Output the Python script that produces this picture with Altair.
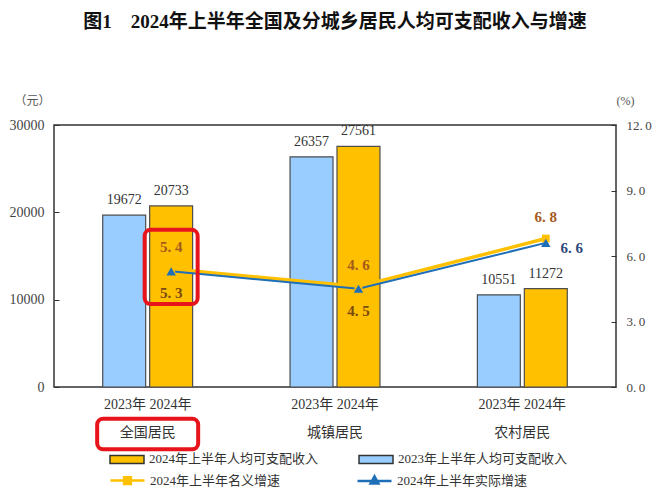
import altair as alt
import pandas as pd

# ---------------- data ----------------
categories = ["全国居民", "城镇居民", "农村居民"]
years = ["2023年", "2024年"]
income_2023 = [19672, 26357, 10551]
income_2024 = [20733, 27561, 11272]
nominal_growth = [5.4, 4.6, 6.8]
real_growth = [5.3, 4.5, 6.6]
income_ticks = [0, 10000, 20000, 30000]
growth_ticks = [0, 3, 6, 9, 12]
growth_series = ["2024年上半年名义增速", "2024年上半年实际增速"]
title_text = "图1\u30002024年上半年全国及分城乡居民人均可支配收入与增速"

# annotation boxes (in growth-axis units)
box_value_range = [3.8, 7.2]
box_label_range = [-1.45, -2.85]

SERIF = "Liberation Serif, Noto Sans CJK SC"
CJK = "Noto Sans CJK SC"
GOLD = "#FFC000"
LBLUE = "#99CCFF"
BLUE = "#1F6FB8"
RED = "#E8141C"

bars_df = pd.DataFrame({
    "地区": categories * 2,
    "年份": [years[0]] * 3 + [years[1]] * 3,
    "收入": income_2023 + income_2024,
})
growth_df = pd.DataFrame({
    "地区": categories * 2,
    "年份": [years[1]] * 6,
    "系列": [growth_series[0]] * 3 + [growth_series[1]] * 3,
    "增速": nominal_growth + real_growth,
})
growth_df["标签"] = growth_df["增速"].map(lambda v: f"{v:.1f}".replace(".", ". "))

box1_df = pd.DataFrame({"地区": [categories[0]], "年份": [years[1]],
                        "y1": [box_value_range[0]], "y2": [box_value_range[1]]})
box2_df = pd.DataFrame({"地区": [categories[0]],
                        "y1": [box_label_range[0]], "y2": [box_label_range[1]]})

# ---------------- encodings ----------------
x_scale = alt.Scale(domain=categories, paddingInner=0.5, paddingOuter=0.25)
xo_scale = alt.Scale(domain=years, paddingInner=0.085, paddingOuter=0.04)

x_axis = alt.Axis(title=None, domain=False, ticks=False, labelAngle=0,
                  labelExpr="['2023年 2024年', datum.label]",
                  labelLineHeight=28, labelPadding=10, labelFontSize=14,
                  labelFont=SERIF, labelColor="#333")

def X():
    return alt.X("地区:N", sort=categories, scale=x_scale, axis=x_axis)

XO = alt.XOffset("年份:N", scale=xo_scale)

inc_scale = alt.Scale(domain=[0, 30000], nice=False, zero=True)
gr_scale = alt.Scale(domain=[0, 12], nice=False, zero=True)

left_axis = alt.Axis(values=income_ticks, orient="left", offset=-5, tickSize=5,
                     format="d",
                     tickColor="#333", domain=False, grid=False, labelPadding=10,
                     labelFont=SERIF, labelFontSize=14, labelColor="#444",
                     title="（元）", titleAngle=0, titleX=-27, titleY=-25,
                     titleAlign="center", titleBaseline="middle", titleFont=CJK,
                     titleFontSize=12, titleFontWeight="normal", titleColor="#555")
right_axis = alt.Axis(values=growth_ticks, orient="right", offset=-5, tickSize=5,
                      tickColor="#333", domain=False, grid=False, labelPadding=10,
                      labelExpr="replace(format(datum.value, '.1f'), '.', '.\u2009')",
                      labelFont=SERIF, labelFontSize=13, labelColor="#444",
                      title="(%)", titleAngle=0, titleX=14, titleY=-25,
                      titleAlign="center", titleBaseline="middle", titleFont=SERIF,
                      titleFontSize=12, titleFontWeight="normal", titleColor="#555")

bar_legend = alt.Legend(title=None, orient="none", legendX=55, legendY=316,
                        direction="horizontal", columnPadding=37, padding=0,
                        symbolType="M-1,-0.24L1,-0.24L1,0.24L-1,0.24Z", symbolSize=1156,
                        symbolStrokeColor="#333", symbolStrokeWidth=1.5,
                        labelExpr="datum.label + '上半年人均可支配收入'",
                        labelFont=SERIF, labelFontSize=13, labelColor="#333",
                        labelOffset=4, labelLimit=400)

sq_path = "M-1,0L1,0M-0.2,-0.2L0.2,-0.2L0.2,0.2L-0.2,0.2Z"
tri_path = "M-1,0L1,0M0,-0.26L0.23,0.16L-0.23,0.16Z"
growth_legend = alt.Legend(title=None, orient="none", legendX=55, legendY=337,
                           direction="horizontal", columnPadding=71, padding=0,
                           symbolSize=1156, symbolStrokeWidth=2.5,
                           labelFont=SERIF, labelFontSize=13, labelColor="#333",
                           labelOffset=4, labelLimit=400)

# ---------------- income layers ----------------
Yi = lambda: alt.Y("收入:Q", scale=inc_scale, stack=None, axis=left_axis)

bars = alt.Chart(bars_df).mark_bar(stroke="#4d4d4d", strokeWidth=1.2).encode(
    x=X(),
    xOffset=XO,
    y=Yi(),
    fill=alt.Fill("年份:N", scale=alt.Scale(domain=[years[1], years[0]], range=[GOLD, LBLUE]),
                  legend=bar_legend),
)
bar_text = alt.Chart(bars_df).mark_text(baseline="bottom", dy=-8, font=SERIF,
                                        fontSize=14, color="#333").encode(
    x=X(), xOffset=XO, y=Yi(), text="收入:Q",
)
income_layer = alt.layer(bars, bar_text)

# ---------------- growth layers ----------------
Yg = lambda field="增速:Q": alt.Y(field, scale=gr_scale, axis=right_axis)

nom = alt.Chart(growth_df).transform_filter(alt.datum["系列"] == growth_series[0])
act = alt.Chart(growth_df).transform_filter(alt.datum["系列"] == growth_series[1])

nom_line = nom.mark_line(color=GOLD, strokeWidth=3.5).encode(x=X(), xOffset=XO, y=Yg())
nom_pts = nom.mark_point(shape="square", filled=True, size=60, color=GOLD, opacity=1).encode(
    x=X(), xOffset=XO, y=Yg())
act_line = act.mark_line(color=BLUE, strokeWidth=2).encode(x=X(), xOffset=XO, y=Yg())
act_pts = act.mark_point(shape="triangle-up", filled=True, size=90, color=BLUE, opacity=1).encode(
    x=X(), xOffset=XO, y=Yg())

nom_text = nom.mark_text(dy=-22, font=SERIF, fontSize=15, fontWeight="bold",
                         color="#A55A1E").encode(x=X(), xOffset=XO, y=Yg(), text="标签:N")
act_text_below = act.transform_filter(alt.datum["地区"] != categories[2]).mark_text(
    dy=22, font=SERIF, fontSize=15, fontWeight="bold", color="#7A4A14").encode(
    x=X(), xOffset=XO, y=Yg(), text="标签:N")
act_text_right = act.transform_filter(alt.datum["地区"] == categories[2]).mark_text(
    dx=26, dy=5, font=SERIF, fontSize=15, fontWeight="bold", color="#2E4A7A").encode(
    x=X(), xOffset=XO, y=Yg(), text="标签:N")

legend_layer = alt.Chart(growth_df).transform_filter("false").mark_point(
    filled=True, opacity=1).encode(
    x=X(), xOffset=XO, y=Yg(),
    color=alt.Color("系列:N", scale=alt.Scale(domain=growth_series, range=[GOLD, BLUE]),
                    legend=growth_legend),
    stroke=alt.Stroke("系列:N", scale=alt.Scale(domain=growth_series, range=[GOLD, BLUE]),
                      legend=growth_legend),
    shape=alt.Shape("系列:N", scale=alt.Scale(domain=growth_series, range=[sq_path, tri_path]),
                    legend=growth_legend),
)

box1 = alt.Chart(box1_df).mark_bar(width=53, fillOpacity=0, stroke=RED, strokeWidth=4,
                                   cornerRadius=6).encode(
    x=X(), xOffset=XO, y=Yg("y1:Q"), y2="y2:Q")
box2 = alt.Chart(box2_df).mark_bar(width=101, fillOpacity=0, stroke=RED, strokeWidth=4,
                                   cornerRadius=6).encode(
    x=X(), y=Yg("y1:Q"), y2="y2:Q")

growth_layer = alt.layer(nom_line, act_line, nom_pts, act_pts, nom_text,
                         act_text_below, act_text_right, legend_layer, box1, box2)

chart = alt.layer(income_layer, growth_layer).resolve_scale(y="independent").properties(
    width=562, height=262,
    autosize=alt.AutoSizeParams(type="none"),
    padding={"left": 46, "top": 117, "right": 36, "bottom": 103},
    title=alt.TitleParams(text=title_text, font=SERIF, fontSize=19, fontWeight="bold",
                          color="#111", anchor="middle", offset=62),
).configure_view(stroke="#333", strokeWidth=1.5)

chart.save("out.html", embed_options={"renderer": "svg", "actions": False})
